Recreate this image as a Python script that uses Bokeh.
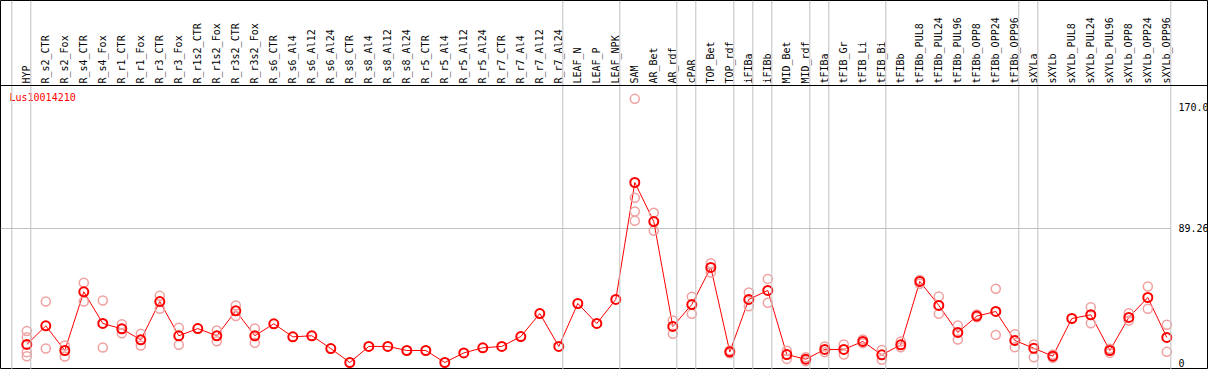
import math
from bokeh.plotting import figure
from bokeh.models import Range1d, Span
from bokeh.core.properties import value
from bokeh.embed import file_html
from bokeh.resources import INLINE

categories = [
    "HYP", "R_s2_CTR", "R_s2_Fox", "R_s4_CTR", "R_s4_Fox", "R_r1_CTR", "R_r1_Fox",
    "R_r3_CTR", "R_r3_Fox", "R_r1s2_CTR", "R_r1s2_Fox", "R_r3s2_CTR", "R_r3s2_Fox",
    "R_s6_CTR", "R_s6_Al4", "R_s6_Al12", "R_s6_Al24", "R_s8_CTR", "R_s8_Al4",
    "R_s8_Al12", "R_s8_Al24", "R_r5_CTR", "R_r5_Al4", "R_r5_Al12", "R_r5_Al24",
    "R_r7_CTR", "R_r7_Al4", "R_r7_Al12", "R_r7_Al24", "LEAF_N", "LEAF_P", "LEAF_NPK",
    "SAM", "AR_Bet", "AR_rdf", "cPAR", "TOP_Bet", "TOP_rdf", "iFIBa", "iFIBb",
    "MID_Bet", "MID_rdf", "tFIBa", "tFIB_Gr", "tFIB_Li", "tFIB_Bi", "tFIBb",
    "tFIBb_PUL8", "tFIBb_PUL24", "tFIBb_PUL96", "tFIBb_OPP8", "tFIBb_OPP24",
    "tFIBb_OPP96", "sXYLa", "sXYLb", "sXYLb_PUL8", "sXYLb_PUL24", "sXYLb_PUL96",
    "sXYLb_OPP8", "sXYLb_OPP24", "sXYLb_OPP96",
]

means = [
    12.0, 24.4, 8.0, 47.1, 26.0, 22.4, 15.1, 40.6, 17.8, 22.6, 17.8, 34.4, 17.8,
    25.8, 17.1, 17.8, 9.3, 0.0, 10.7, 10.7, 8.0, 8.0, 0.0, 6.4, 9.8,
    10.7, 17.3, 32.6, 10.7, 39.3, 26.0, 42.0,
    119.9, 93.9, 24.0, 38.6, 63.3, 7.1, 42.0, 48.0,
    5.3, 2.2, 8.7, 8.7, 14.0, 5.1, 11.8,
    54.0, 38.0, 20.0, 30.9, 34.0, 14.7, 9.5, 4.2, 29.3, 31.8, 8.0,
    30.0, 43.3, 16.7,
]

replicates = [
    [20.9, 16.9, 6.9, 4.2], [40.6, 9.3], [11.3, 4.0], [53.1, 40.6], [41.3, 10.0],
    [25.5, 19.5], [19.1, 11.3], [44.4, 35.8], [23.1, 11.8], [], [21.3, 14.2],
    [38.0, 30.9], [22.6, 13.1],
    [], [], [], [], [], [], [], [], [], [], [], [], [], [], [], [], [], [], [],
    [175.6, 109.7, 100.6, 94.4], [99.7, 87.7], [28.0, 19.1], [43.8, 32.4],
    [66.1, 59.9], [8.0, 6.2], [46.6, 37.5], [55.7, 39.8],
    [7.8, 2.4], [3.5, 0.9], [10.7, 6.9], [12.0, 5.3], [15.3, 12.9], [8.4, 1.8],
    [14.0, 10.2],
    [55.0, 52.4], [44.0, 32.4], [24.6, 15.3], [32.0, 30.2], [49.1, 18.4],
    [18.9, 10.2], [12.0, 3.5], [5.3, 3.1], [], [36.8, 26.2], [9.1, 6.4],
    [32.8, 28.0], [50.6, 35.8], [25.1, 7.1],
]

group_ends = [-1, 0, 28, 31, 34, 35, 37, 38, 39, 41, 42, 45, 52, 53, 60]
y_ticks = [0.0, 89.26, 170.0]
y_tick_labels = ["0", "89.26", "170.0"]
gene = "Lus10014210"

# ---- layout constants (pixels) ----
W, H = 1208, 369
PX0, STEP = 26.3, 19.0        # pixel of first column and column pitch
Y0PX, YSCALE = 362.0, 1.5013  # pixel of value 0 and pixels per unit


def yval(px):
    return (Y0PX - px) / YSCALE


def xval(px):
    return (px - PX0) / STEP


x_start, x_end = xval(0), xval(W)
y_start, y_end = yval(H), yval(0)

p = figure(width=W, height=H,
           x_range=Range1d(x_start, x_end), y_range=Range1d(y_start, y_end),
           output_backend="svg", toolbar_location=None,
           x_axis_location=None, y_axis_location=None,
           min_border=0)
p.grid.visible = False
p.outline_line_color = "black"
p.outline_line_width = 1
p.background_fill_color = "white"
p.border_fill_color = "white"

mono = value("DejaVu Sans Mono")
GRID = "#c0c0c0"
off = 4.0 / STEP

for g in group_ends:
    p.add_layout(Span(location=g + off, dimension="height",
                      line_color=GRID, line_width=1))

p.segment(x0=[x_start], x1=[group_ends[-1] + off], y0=[y_ticks[1]], y1=[y_ticks[1]],
          line_color=GRID, line_width=1)

p.add_layout(Span(location=yval(85), dimension="width",
                  line_color="black", line_width=1))

idx = list(range(len(categories)))

p.text(x=idx, y=[yval(83)] * len(idx), text=categories, angle=math.pi / 2,
       text_align="left", text_baseline="middle", text_font=mono,
       text_font_size="10px", text_color="black")

rx, ry = [], []
for i, vals in enumerate(replicates):
    for v in vals:
        rx.append(i)
        ry.append(v)

p.line(x=idx, y=means, line_color="#ff0000", line_width=1)
p.scatter(x=rx, y=ry, size=9, fill_color=None, line_color="#f0a0a0", line_width=1.5)
p.scatter(x=idx, y=means, size=9, fill_color=None, line_color="#ff0000", line_width=2)

p.text(x=[xval(1178)] * len(y_ticks), y=y_ticks, text=y_tick_labels,
       text_align="left", text_baseline="middle", text_font=mono,
       text_font_size="10px", text_color="black")

p.text(x=[xval(9)], y=[yval(97)], text=[gene], text_align="left",
       text_baseline="middle", text_font=mono, text_font_size="10px",
       text_color="#ff0000")

open("out.html", "w").write(file_html(p, INLINE))
